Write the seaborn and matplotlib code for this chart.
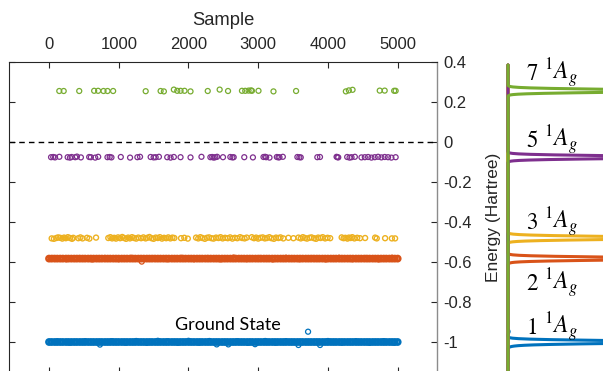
import numpy as np
import matplotlib
matplotlib.use("Agg")
import matplotlib.pyplot as plt
import seaborn as sns

# ---------------- data ----------------
c_blue, c_orange, c_yellow, c_purple, c_green = "#0072BD", "#D95319", "#EDB120", "#7E2F8E", "#77AC30"

green_x = [147, 210, 433, 647, 704, 781, 839, 919, 1386, 1600, 1647, 1790, 1839, 1886, 1943, 2029,
           2276, 2447, 2567, 2767, 2814, 2861, 2896, 2910, 3004, 3219, 3543, 4257, 4300, 4353,
           4743, 4814, 4950, 4971]
green_y = [0.255, 0.255, 0.255, 0.256, 0.256, 0.255, 0.255, 0.255, 0.254, 0.255, 0.253, 0.262, 0.256,
           0.256, 0.256, 0.253, 0.255, 0.262, 0.255, 0.256, 0.256, 0.257, 0.258, 0.256, 0.256, 0.253,
           0.255, 0.253, 0.258, 0.261, 0.257, 0.257, 0.256, 0.256]

purple_x = [29, 60, 86, 148, 267, 300, 324, 376, 400, 457, 576, 600, 662, 705, 838, 870, 895, 1029,
            1162, 1267, 1305, 1457, 1500, 1529, 1576, 1695, 1743, 1790, 1886, 2029, 2186, 2314, 2340,
            2362, 2385, 2410, 2495, 2600, 2630, 2648, 2800, 2924, 3076, 3100, 3114, 3162, 3267, 3290,
            3305, 3353, 3562, 3590, 3610, 3848, 3886, 4124, 4136, 4148, 4276, 4310, 4338, 4386, 4481,
            4529, 4576, 4624, 4671, 4719, 4767, 4814, 4862, 4910, 4971]
purple_y = [-0.076, -0.075, -0.077, -0.074, -0.076, -0.078, -0.075, -0.076, -0.073, -0.077, -0.075,
            -0.076, -0.078, -0.074, -0.076, -0.075, -0.077, -0.075, -0.078, -0.076, -0.074, -0.075,
            -0.077, -0.076, -0.074, -0.076, -0.078, -0.075, -0.076, -0.077, -0.074, -0.076, -0.075,
            -0.078, -0.076, -0.074, -0.076, -0.075, -0.077, -0.076, -0.076, -0.077, -0.075, -0.074,
            -0.076, -0.078, -0.075, -0.077, -0.076, -0.074, -0.075, -0.076, -0.077, -0.076, -0.075,
            -0.074, -0.076, -0.077, -0.075, -0.078, -0.076, -0.074, -0.077, -0.076, -0.075, -0.078,
            -0.076, -0.074, -0.077, -0.075, -0.076, -0.078, -0.076]

yellow_x = [38, 70, 105, 130, 160, 190, 215, 240, 270, 300, 330, 348,
            420, 450, 480, 545, 578,
            674,
            850, 880, 905, 935, 960, 990, 1020, 1050, 1075, 1105, 1135, 1160, 1190, 1220, 1250, 1280, 1320,
            1353, 1385, 1410, 1440, 1470, 1500, 1530, 1560, 1590, 1620, 1650, 1680, 1710, 1740, 1770, 1797,
            1893, 1940, 1990,
            2109, 2140, 2170, 2200, 2235, 2265, 2295, 2330, 2360, 2395, 2430, 2460, 2490, 2525, 2563,
            2597, 2630, 2665, 2700, 2740, 2770, 2805, 2835,
            2908, 2940, 2970, 3000, 3030, 3065, 3095, 3125, 3160, 3190, 3225, 3255, 3290, 3320, 3360,
            3433, 3505,
            3577, 3610, 3640, 3670, 3700, 3735, 3765, 3800, 3830, 3860, 3895, 3925, 3960, 3995, 4032,
            4197, 4225, 4250, 4280, 4300, 4325, 4350, 4380, 4420, 4460,
            4533, 4677, 4700, 4820, 4917, 4963]
yellow_y = [-0.482, -0.484, -0.480, -0.477, -0.479, -0.483, -0.478, -0.481, -0.476, -0.480, -0.484, -0.479,
            -0.481, -0.477, -0.482, -0.479, -0.483,
            -0.478,
            -0.480, -0.476, -0.482, -0.479, -0.483, -0.477, -0.481, -0.475, -0.480, -0.484, -0.478, -0.482,
            -0.476, -0.480, -0.483, -0.478, -0.481,
            -0.477, -0.482, -0.479, -0.475, -0.481, -0.484, -0.478, -0.480, -0.476, -0.483, -0.479, -0.481,
            -0.477, -0.482, -0.478, -0.480,
            -0.481, -0.479, -0.483,
            -0.478, -0.482, -0.476, -0.480, -0.484, -0.479, -0.477, -0.481, -0.483, -0.478, -0.480, -0.476,
            -0.482, -0.479, -0.481,
            -0.477, -0.483, -0.479, -0.481, -0.476, -0.480, -0.482, -0.478,
            -0.476, -0.481, -0.478, -0.483, -0.479, -0.477, -0.482, -0.480, -0.476, -0.481, -0.484, -0.478,
            -0.480, -0.477, -0.482,
            -0.479, -0.481,
            -0.478, -0.482, -0.476, -0.480, -0.483, -0.479, -0.477, -0.481, -0.484, -0.478, -0.480, -0.476,
            -0.482, -0.479, -0.481,
            -0.477, -0.481, -0.479, -0.483, -0.478, -0.480, -0.476, -0.482, -0.479, -0.481,
            -0.480, -0.478, -0.482, -0.481, -0.482, -0.482]

dense_samples = [0, 38, 81, 119, 160, 198, 242, 279, 320, 361, 399, 441, 480, 518, 561, 600, 639, 681,
                 720, 758, 801, 840, 879, 921, 960, 998, 1041, 1080, 1119, 1161, 1200, 1238, 1281, 1320,
                 1359, 1401, 1440, 1478, 1521, 1560, 1599, 1641, 1680, 1718, 1761, 1800, 1839, 1881,
                 1920, 1958, 2001, 2040, 2079, 2121, 2160, 2198, 2241, 2280, 2319, 2361, 2400, 2438,
                 2481, 2520, 2559, 2601, 2640, 2678, 2721, 2760, 2799, 2841, 2880, 2918, 2961, 3000,
                 3039, 3081, 3120, 3158, 3201, 3240, 3279, 3321, 3360, 3398, 3441, 3480, 3519, 3561,
                 3600, 3638, 3681, 3720, 3759, 3801, 3840, 3878, 3921, 3960, 3999, 4041, 4080, 4118,
                 4161, 4200, 4239, 4281, 4320, 4358, 4401, 4440, 4479, 4521, 4560, 4598, 4641, 4680,
                 4719, 4761, 4800, 4838, 4881, 4920, 4959, 5000]

orange_level = -0.583
orange_off_x = [60, 250, 430, 620, 800, 1000, 1180, 1330, 1500, 1700, 1900, 2080, 2270, 2460, 2650,
                2830, 3020, 3210, 3400, 3590, 3780, 3970, 4160, 4350, 4540, 4730, 4920]
orange_off_y = [-0.580, -0.586, -0.580, -0.587, -0.580, -0.586, -0.579, -0.598, -0.580, -0.586, -0.579,
                -0.586, -0.580, -0.587, -0.578, -0.586, -0.580, -0.587, -0.579, -0.586, -0.580, -0.587,
                -0.579, -0.586, -0.580, -0.587, -0.579]

blue_level = -1.000
blue_off_x = [120, 300, 520, 730, 900, 1100, 1250, 1400, 1560, 1700, 1850, 2000, 2150, 2300, 2405,
              2572, 2700, 2850, 2955, 3100, 3250, 3400, 3577, 3715, 3887, 4000, 4200, 4400, 4600,
              4800, 4950]
blue_off_y = [-0.997, -1.003, -0.996, -1.013, -0.996, -1.003, -0.995, -1.004, -0.994, -0.997, -1.004,
              -0.994, -1.003, -0.995, -1.012, -1.012, -0.996, -1.004, -1.011, -0.995, -1.003, -0.996,
              -1.015, -0.9485, -1.015, -0.995, -1.003, -0.996, -1.004, -0.996, -1.003]

x_ticks = [0, 1000, 2000, 3000, 4000, 5000]
y_ticks = [-1.0, -0.8, -0.6, -0.4, -0.2, 0.0, 0.2, 0.4]
y_tick_labels = ["-1", "-0.8", "-0.6", "-0.4", "-0.2", "0", "0.2", "0.4"]

state_numbers = ["7", "5", "3", "2", "1"]
state_symbol = r"${}^{1}A_g$"

# ---------------- style ----------------
sns.set_theme(style="white")
plt.rcParams["font.family"] = ["Liberation Sans", "DejaVu Sans"]
plt.rcParams["axes.unicode_minus"] = False
plt.rcParams["mathtext.fontset"] = "stix"

W, H = 603, 371
fig = plt.figure(figsize=(W / 100, H / 100), dpi=100)
fig.patch.set_facecolor("white")

YLO, YHI = -1.155, 0.4
ax = fig.add_axes([9.3 / W, -2 / H, (436.7 - 9.3) / W, (373 - 62) / H])
ax.set_facecolor("white")


def hollow(xs, ys, col, lw=0.9, s=13):
    sns.scatterplot(x=xs, y=ys, ax=ax, color=col, s=s, marker="o", linewidth=lw, legend=False)
    coll = ax.collections[-1]
    coll.set_facecolor("none")
    coll.set_edgecolor(col)


hollow(dense_samples, [blue_level] * len(dense_samples), c_blue, lw=1.9, s=14)
hollow(blue_off_x, blue_off_y, c_blue)
hollow(dense_samples, [orange_level] * len(dense_samples), c_orange, lw=1.9, s=14)
hollow(orange_off_x, orange_off_y, c_orange)
hollow(yellow_x, yellow_y, c_yellow, lw=1.0)
hollow(purple_x, purple_y, c_purple)
hollow(green_x, green_y, c_green)

ax.axhline(0, color="black", linestyle=(0, (4, 3)), linewidth=1.0, zorder=1)

ax.set_xlim(-570, 5560)
ax.set_ylim(YLO, YHI)
ax.set_xticks(x_ticks)
ax.set_xticklabels([str(v) for v in x_ticks])
ax.set_yticks(y_ticks)
ax.set_yticklabels(y_tick_labels)

dark = "#262626"
gray = "#8c8c8c"
ax.xaxis.set_label_position("top")
ax.tick_params(axis="x", which="major", top=True, bottom=True, labeltop=True, labelbottom=False,
               direction="in", length=4, width=0.8, color=dark, labelsize=12, labelcolor=dark, pad=7)
ax.tick_params(axis="y", which="major", left=True, right=True, labelleft=False, labelright=True,
               direction="in", length=4.5, width=0.8, labelsize=12, labelcolor=dark, pad=5)
for t in ax.yaxis.get_major_ticks():
    t.tick1line.set_color(dark)
    t.tick2line.set_color(gray)
ax.set_xlabel("Sample", fontsize=13.2, color=dark, labelpad=9)
ax.set_ylabel("")
for side in ["left", "top"]:
    ax.spines[side].set_color(dark)
    ax.spines[side].set_linewidth(0.8)
ax.spines["right"].set_color(gray)
ax.spines["right"].set_linewidth(1.0)
ax.spines["bottom"].set_color(dark)

ax.text(2560, -0.915, "Ground State", fontsize=13, family=["Lato", "DejaVu Sans"],
        ha="center", va="center", color="black")

fig.text(493 / W, 1 - 217 / H, "Energy (Hartree)", rotation=90, ha="center", va="center",
         fontsize=12.5, color=dark)

# ---------------- right panel: broadened energy distributions ----------------
ax2 = fig.add_axes([500 / W, -2 / H, 103 / W, (373 - 62) / H])

E = np.linspace(YLO, 0.385, 4000)
sigma = 0.0068
amp = 185.0
series = [
    ([blue_level] * len(dense_samples) + blue_off_y, c_blue),
    ([orange_level] * len(dense_samples) + orange_off_y, c_orange),
    (yellow_y, c_yellow),
    (purple_y, c_purple),
    (green_y, c_green),
]
for ys, col in series:
    ys = np.asarray(ys)
    dens = np.exp(-((E[:, None] - ys[None, :]) ** 2) / (2 * sigma ** 2)).mean(axis=1)
    sns.lineplot(x=amp * dens, y=E, orient="y", sort=False, estimator=None, ax=ax2, color=col,
                 linewidth=2.2, legend=False)
ax2.set_xlim(-8, 95)
ax2.set_ylim(YLO, YHI)
ax2.axis("off")

label_y_px = [73, 140, 222, 283, 327]
for num, ypx in zip(state_numbers, label_y_px):
    yb = 1 - (ypx + 7) / H
    fig.text(526 / W, yb, r"$\mathrm{" + num + "}$", fontsize=16.5, ha="left", va="baseline",
             color="black")
    fig.text(544 / W, yb, state_symbol, fontsize=17, ha="left", va="baseline", color="black")

fig.savefig("out.png", dpi=100, facecolor="white")
